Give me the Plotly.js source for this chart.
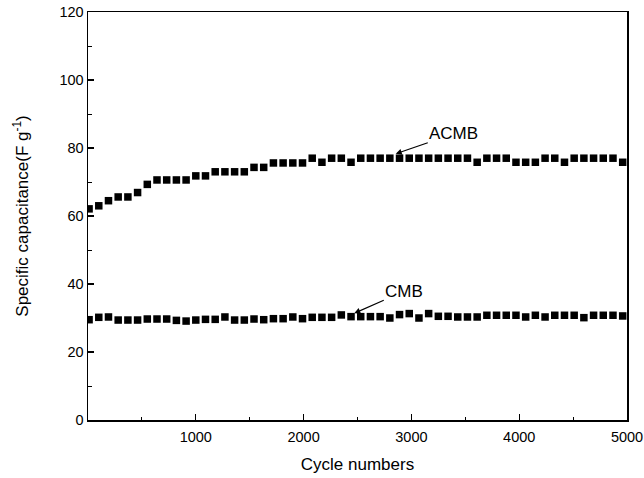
<!DOCTYPE html>
<html>
<head>
<meta charset="utf-8">
<script src="https://cdn.plot.ly/plotly-3.0.1.min.js"></script>
<style>html,body{margin:0;padding:0;background:#fff;}#chart{width:644px;height:478px;}</style>
</head>
<body>
<div id="chart"></div>
<script>
// Cycle numbers (x)
var cycles = [10, 100, 190, 280, 370, 460, 550, 640, 730, 820,
  910, 1000, 1090, 1180, 1270, 1360, 1450, 1540, 1630, 1720,
  1810, 1900, 1990, 2080, 2170, 2260, 2350, 2440, 2530, 2620,
  2710, 2800, 2890, 2980, 3070, 3160, 3250, 3340, 3430, 3520,
  3610, 3700, 3790, 3880, 3970, 4060, 4150, 4240, 4330, 4420,
  4510, 4600, 4690, 4780, 4870, 4960];

// Specific capacitance (F g^-1)
var acmb = [62.1, 63.0, 64.5, 65.6, 65.6, 66.9, 69.3, 70.6, 70.6, 70.6,
  70.6, 71.8, 71.8, 73.0, 73.0, 73.0, 73.0, 74.3, 74.3, 75.6,
  75.6, 75.6, 75.6, 77.0, 75.8, 77.0, 77.0, 75.8, 77.0, 77.0,
  77.0, 77.0, 77.0, 77.0, 77.0, 77.0, 77.0, 77.0, 77.0, 77.0,
  75.8, 77.0, 77.0, 77.0, 75.8, 75.8, 75.8, 77.0, 77.0, 75.8,
  77.0, 77.0, 77.0, 77.0, 77.0, 75.8];

var cmb = [29.5, 30.2, 30.3, 29.4, 29.4, 29.4, 29.7, 29.7, 29.7, 29.3,
  29.1, 29.4, 29.6, 29.6, 30.3, 29.4, 29.4, 29.7, 29.5, 29.8,
  29.8, 30.3, 29.8, 30.2, 30.2, 30.2, 30.9, 30.4, 30.4, 30.4,
  30.4, 30.0, 31.0, 31.3, 30.0, 31.3, 30.5, 30.5, 30.3, 30.3,
  30.3, 30.8, 30.8, 30.8, 30.8, 30.3, 30.8, 30.3, 30.8, 30.8,
  30.8, 30.1, 30.8, 30.8, 30.8, 30.6];

var xTicks = [1000, 2000, 3000, 4000, 5000];
var xTickText = ['1000', '2000', '3000', '4000', '5000'];
var yTicks = [0, 20, 40, 60, 80, 100, 120];
var yTickText = ['0', '20', '40', '60', '80', '100', '120'];

var seriesNames = ['ACMB', 'CMB'];

var FONT = 'Liberation Sans, Arial, Helvetica, sans-serif';

var markerStyle = {symbol: 'square', size: 7.5, color: '#000000', line: {width: 0}};

var traces = [
  {x: cycles, y: acmb, name: seriesNames[0], type: 'scatter', mode: 'markers', marker: markerStyle},
  {x: cycles, y: cmb, name: seriesNames[1], type: 'scatter', mode: 'markers', marker: markerStyle}
];

var axisCommon = {
  showline: true, linecolor: '#000', linewidth: 1.5, mirror: true,
  showgrid: false, zeroline: false,
  ticks: 'inside', ticklen: 6, tickwidth: 1.2, tickcolor: '#000',
  tickfont: {family: FONT, size: 14.5, color: '#000'}
};

var layout = {
  width: 644, height: 478,
  margin: {l: 88, r: 17, t: 12, b: 58},
  paper_bgcolor: '#fff', plot_bgcolor: '#fff',
  showlegend: false,
  font: {family: FONT, color: '#000'},
  xaxis: Object.assign({}, axisCommon, {
    range: [0, 5000], tickmode: 'array', tickvals: xTicks, ticktext: xTickText,
    ticklabelstandoff: 3,
    minor: {tickmode: 'linear', tick0: 0, dtick: 500, ticks: 'inside', ticklen: 3.5, tickwidth: 1, tickcolor: '#000', showgrid: false},
    title: {text: 'Cycle numbers', font: {family: FONT, size: 17, color: '#000'}, standoff: 14}
  }),
  yaxis: Object.assign({}, axisCommon, {
    range: [0, 120], tickmode: 'array', tickvals: yTicks, ticktext: yTickText,
    minor: {tickmode: 'linear', tick0: 0, dtick: 10, ticks: 'inside', ticklen: 3.5, tickwidth: 1, tickcolor: '#000', showgrid: false},
    title: {text: 'Specific capacitance(F g<sup>-1</sup>)', font: {family: FONT, size: 17, color: '#000'}, standoff: 26}
  }),
  annotations: [
    {x: 2855, y: 78.3, xref: 'x', yref: 'y', text: seriesNames[0], showarrow: true,
     ax: 58, ay: -20, axref: 'pixel', ayref: 'pixel',
     arrowhead: 2, arrowsize: 1, arrowwidth: 1.2, arrowcolor: '#000', standoff: 0,
     font: {family: FONT, size: 17, color: '#000'}},
    {x: 2470, y: 31.4, xref: 'x', yref: 'y', text: seriesNames[1], showarrow: true,
     ax: 50, ay: -22, axref: 'pixel', ayref: 'pixel',
     arrowhead: 2, arrowsize: 1, arrowwidth: 1.2, arrowcolor: '#000', standoff: 0,
     font: {family: FONT, size: 17, color: '#000'}}
  ]
};

Plotly.newPlot('chart', traces, layout, {displayModeBar: false, staticPlot: true});
</script>
</body>
</html>
